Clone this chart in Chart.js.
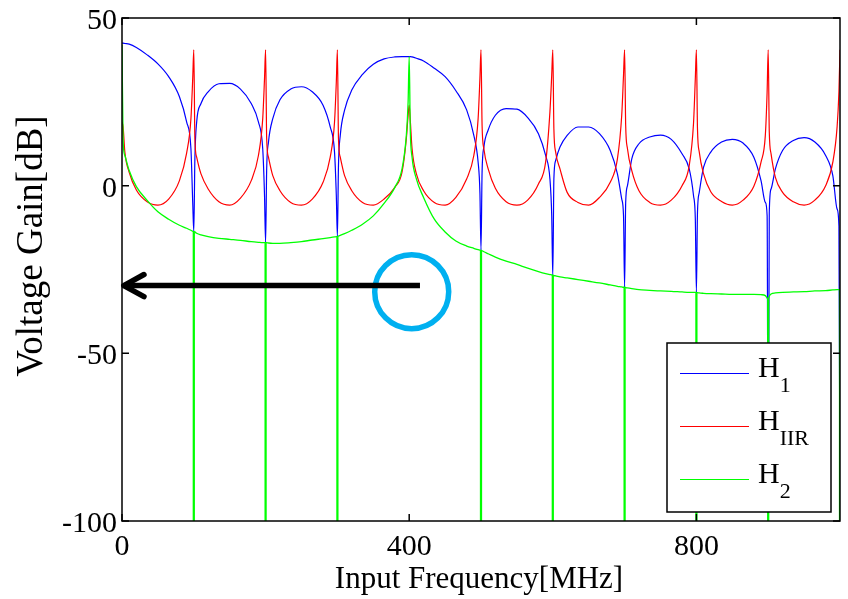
<!DOCTYPE html>
<html>
<head>
<meta charset="utf-8">
<script src="https://cdn.jsdelivr.net/npm/chart.js@4.4.1/dist/chart.umd.min.js"></script>
<style>
  html, body { margin: 0; padding: 0; background: #fff; }
  #wrap { width: 848px; height: 599px; position: relative; }
</style>
</head>
<body>
<div id="wrap"><canvas id="gainChart"></canvas></div>
<script>
// Voltage gain of H1, H_IIR and H2 against input frequency

// frequency samples (MHz), denser around the notches every 100 MHz
const freqMHz = [
    0, 1.5, 4, 10, 20, 35, 50, 65, 80, 90, 96, 98.5,
    100, 101.5, 104, 110, 120, 135, 150, 165, 180, 190, 196, 198.5,
    200, 201.5, 204, 210, 220, 235, 250, 265, 280, 290, 296, 298.5,
    300, 301.5, 304, 310, 320, 335, 350, 365, 380, 390, 396, 398.5,
    400, 401.5, 404, 410, 420, 435, 450, 465, 480, 490, 496, 498.5,
    500, 501.5, 504, 510, 520, 535, 550, 565, 580, 590, 596, 598.5,
    600, 601.5, 604, 610, 620, 635, 650, 665, 680, 690, 696, 698.5,
    700, 701.5, 704, 710, 720, 735, 750, 765, 780, 790, 796, 798.5,
    800, 801.5, 804, 810, 820, 835, 850, 865, 880, 890, 896, 898.5,
    900, 901.5, 904, 910, 920, 935, 950, 965, 980, 990, 996, 998.5,
    1000
];

// H1 (blue), dB
const h1Gain = [
    42.5, 42.5, 42.4, 42.2, 41.2, 39, 36.3, 32.5, 26.5, 19, 11, -5,
    -13.7, 8, 19, 24.5, 28, 30.4, 30.5, 28.8, 24.5, 19, 11, -3,
    -17, 5, 13, 20, 25.6, 28.8, 29.5, 28, 24, 17.5, 10, -3,
    -15.2, 6, 15, 22.5, 28.5, 33.2, 36.2, 37.8, 38.4, 38.5, 38.5, 38.5,
    38.5, 38.5, 38.4, 38, 37.2, 35, 32.5, 28.3, 22.6, 15, 7, -2,
    -19.2, 4, 11.5, 16.6, 21, 23, 22.8, 20.3, 15.5, 9, 2, -9,
    -27, 2, 7.5, 11.5, 15, 17.5, 17.5, 15.5, 10.5, 3.5, -4, -9,
    -30.3, -5, 0, 8, 12.5, 14.5, 15.1, 13.8, 9.5, 5, -3, -10,
    -31.8, -8, -2, 5.5, 10, 13, 13.8, 12.7, 8.5, 1.5, -5, -9,
    -100, -8, -1, 5, 10.5, 13.5, 14.3, 13, 9, 3, -7, -12,
    -100
];

// H_IIR (red), dB
const hIirGain = [
    19, 17.6, 10, 4, -1.3, -4.8, -5.8, -4, 1.5, 9.7, 20, 32,
    40.5, 14, 8.5, 3.5, -1, -4.8, -5.8, -3.7, 1.5, 9, 20, 32,
    40.5, 14, 8.5, 3, -1.5, -5, -5.8, -4, 1, 8.5, 19, 31,
    40.5, 14, 8.5, 3, -1.5, -5, -5.8, -4, -0.5, 4, 14, 21,
    24, 19.6, 11, 3.5, -1.5, -5, -5.8, -3.5, 2, 9, 20, 32,
    40.5, 18, 11, 5, -0.8, -4.8, -5.8, -4.3, 0.5, 7, 22, 33,
    40.5, 17, 10, 5, -2, -5, -5.8, -3.5, 1, 8, 21, 33,
    40.5, 18, 11, 4.5, -1.5, -5, -5.8, -4.3, 0, 6, 18.6, 32,
    40.5, 17, 10, 3.5, -1.8, -4.7, -5.8, -4.3, -0.2, 7, 15, 28,
    40.5, 16, 9.5, 2.5, -2, -4.8, -5.8, -4.3, 0, 7, 17.6, 28,
    40.5
];

// H2 (green), dB -- curve level; the deep notches are in h2NotchTop below
const h2Gain = [
    42, 13.6, 9, 4.5, -0.3, -4.4, -7.8, -10, -11.8, -12.7, -13.3, -13.6,
    -13.7, -13.8, -14.2, -14.7, -15.2, -15.7, -16, -16.3, -16.7, -16.9, -17, -17,
    -17, -17, -17.1, -17.2, -17.2, -17, -16.7, -16.2, -15.8, -15.5, -15.3, -15.2,
    -15.2, -15, -14.8, -14.3, -13.3, -11.5, -9, -5.3, -0.5, 5, 15, 25,
    38.5, 16.6, 8.5, 2, -3.5, -10, -13.8, -16.5, -18, -18.7, -19.1, -19.2,
    -19.3, -19.4, -19.7, -20.3, -21.3, -22.5, -23.5, -24.6, -25.6, -26.2, -26.5, -26.6,
    -26.7, -26.8, -26.9, -27.2, -27.5, -28, -28.5, -29, -29.6, -30, -30.2, -30.3,
    -30.3, -30.4, -30.5, -30.7, -31, -31.2, -31.4, -31.5, -31.7, -31.8, -31.8, -31.8,
    -31.8, -31.9, -32, -32.1, -32.2, -32.3, -32.4, -32.4, -32.4, -32.5, -32.8, -33.5,
    -34, -33, -32.3, -32, -31.8, -31.7, -31.6, -31.4, -31.3, -31.1, -31, -31,
    -31
];

// H2 notches: each one falls from the curve to the bottom of the axis
const notchFreq = [100, 200, 300, 500, 600, 700, 800, 900, 1000];
const h2NotchTop = [-13.7, -17, -15.2, -19.3, -26.7, -30.3, -31.8, -34, -31];
const h2NotchBottom = [-100, -100, -100, -100, -100, -100, -100, -100, -100];

const xTicks = [0, 400, 800];
const yTicks = [50, 0, -50, -100];

// annotation: arrow pointing at the y axis, circle around 400 MHz
const arrowShaftX = [415, 2.5];
const arrowShaftY = [-29.8, -29.8];
const arrowHeadX = [30.6, 2.5, 30.6];
const arrowHeadY = [-26.5, -29.8, -33.1];
const circleX = [403.5];
const circleY = [-31.6];

const legendLabels = [
    { main: 'H', sub: '1', color: '#0000ff' },
    { main: 'H', sub: 'IIR', color: '#ff0000' },
    { main: 'H', sub: '2', color: '#00ff00' }
];

function toPoints(xs, ys) {
    return xs.map((x, i) => ({ x: x, y: ys[i] }));
}

const FONT = '"Liberation Serif", "Times New Roman", serif';

// axes box, inward ticks, labels and legend in the MATLAB look
const matlabFrame = {
    id: 'matlabFrame',
    afterDatasetsDraw(chart) {
        const ctx = chart.ctx;
        const area = chart.chartArea;
        const xs = chart.scales.x;
        const ys = chart.scales.y;
        ctx.save();

        // legend box
        const lb = { left: 667, top: 343, right: 831, bottom: 512 };
        ctx.fillStyle = '#fff';
        ctx.fillRect(lb.left, lb.top, lb.right - lb.left, lb.bottom - lb.top);
        ctx.strokeStyle = '#000';
        ctx.lineWidth = 1.5;
        ctx.strokeRect(lb.left, lb.top, lb.right - lb.left, lb.bottom - lb.top);
        legendLabels.forEach((item, i) => {
            const ly = 373.5 + i * 53;
            ctx.strokeStyle = item.color;
            ctx.lineWidth = 1.2;
            ctx.beginPath();
            ctx.moveTo(680, ly);
            ctx.lineTo(749, ly);
            ctx.stroke();
            ctx.fillStyle = '#000';
            ctx.textAlign = 'left';
            ctx.textBaseline = 'alphabetic';
            ctx.font = '30px ' + FONT;
            ctx.fillText(item.main, 758, ly + 3.5);
            const w = ctx.measureText(item.main).width;
            ctx.font = '22px ' + FONT;
            ctx.fillText(item.sub, 758 + w, ly + 18.5);
        });

        // frame
        ctx.strokeStyle = '#000';
        ctx.lineWidth = 1.5;
        ctx.strokeRect(area.left, area.top, area.right - area.left, area.bottom - area.top);

        // inward ticks on all four sides
        const tl = 7;
        ctx.beginPath();
        xTicks.forEach(v => {
            const px = xs.getPixelForValue(v);
            ctx.moveTo(px, area.bottom);
            ctx.lineTo(px, area.bottom - tl);
            ctx.moveTo(px, area.top);
            ctx.lineTo(px, area.top + tl);
        });
        yTicks.forEach(v => {
            const py = ys.getPixelForValue(v);
            ctx.moveTo(area.left, py);
            ctx.lineTo(area.left + tl, py);
            ctx.moveTo(area.right, py);
            ctx.lineTo(area.right - tl, py);
        });
        ctx.stroke();

        // tick labels
        ctx.fillStyle = '#000';
        ctx.font = '30px ' + FONT;
        ctx.textAlign = 'center';
        ctx.textBaseline = 'alphabetic';
        xTicks.forEach(v => {
            ctx.fillText(String(v), xs.getPixelForValue(v), 555);
        });
        ctx.textAlign = 'right';
        yTicks.forEach(v => {
            ctx.fillText(String(v), 117, ys.getPixelForValue(v) + 11);
        });

        // axis titles
        ctx.textAlign = 'center';
        ctx.font = '31px ' + FONT;
        ctx.fillText('Input Frequency[MHz]', 479, 588);
        ctx.save();
        ctx.font = '37px ' + FONT;
        ctx.translate(42, 246);
        ctx.rotate(-Math.PI / 2);
        ctx.fillText('Voltage Gain[dB]', 0, 0);
        ctx.restore();

        ctx.restore();
    }
};

const ctx = document.getElementById('gainChart').getContext('2d');

const gainChart = new Chart(ctx, {
    type: 'line',
    data: {
        datasets: [
            {
                label: 'H1',
                data: toPoints(freqMHz, h1Gain),
                borderColor: '#0000ff',
                borderWidth: 1.2,
                pointRadius: 0,
                cubicInterpolationMode: 'monotone',
                order: 3
            },
            {
                label: 'HIIR',
                data: toPoints(freqMHz, hIirGain),
                borderColor: '#ff0000',
                borderWidth: 1.2,
                pointRadius: 0,
                cubicInterpolationMode: 'monotone',
                order: 2
            },
            {
                label: 'H2',
                data: toPoints(freqMHz, h2Gain),
                borderColor: '#00ff00',
                borderWidth: 1.3,
                pointRadius: 0,
                cubicInterpolationMode: 'monotone',
                order: 1
            },
            {
                type: 'bar',
                label: 'H2 notches',
                data: notchFreq.map((f, i) => ({ x: f, y: [h2NotchBottom[i], h2NotchTop[i]] })),
                backgroundColor: '#00ff00',
                borderWidth: 0,
                barThickness: 1.6,
                grouped: false,
                order: 1
            },
            {
                label: 'circle',
                data: toPoints(circleX, circleY),
                showLine: false,
                pointRadius: 37,
                pointBorderWidth: 5.5,
                pointBorderColor: '#00b0f0',
                pointBackgroundColor: 'rgba(0,0,0,0)',
                clip: false,
                order: 0
            },
            {
                label: 'arrowShaft',
                data: toPoints(arrowShaftX, arrowShaftY),
                borderColor: '#000',
                borderWidth: 5.5,
                borderCapStyle: 'butt',
                pointRadius: 0,
                clip: false,
                order: -1
            },
            {
                label: 'arrowHead',
                data: toPoints(arrowHeadX, arrowHeadY),
                borderColor: '#000',
                borderWidth: 5.5,
                borderCapStyle: 'round',
                borderJoinStyle: 'round',
                pointRadius: 0,
                clip: false,
                order: -2
            }
        ]
    },
    options: {
        responsive: true,
        maintainAspectRatio: false,
        animation: false,
        events: [],
        layout: {
            autoPadding: false,
            padding: { left: 122, top: 18, right: 8, bottom: 78 }
        },
        scales: {
            x: { type: 'linear', min: 0, max: 1000, offset: false, display: false },
            y: { type: 'linear', min: -100, max: 50, display: false }
        },
        plugins: {
            legend: { display: false },
            tooltip: { enabled: false }
        }
    },
    plugins: [matlabFrame]
});
</script>
</body>
</html>
